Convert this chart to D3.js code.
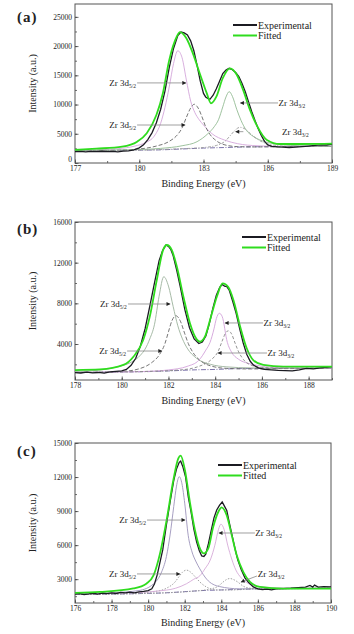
<!DOCTYPE html>
<html>
<head>
<meta charset="utf-8">
<script src="https://cdn.jsdelivr.net/npm/d3@7/dist/d3.min.js"></script>
<style>
  body { margin: 0; background: #fff; }
  svg { display: block; }
  text { font-family: "Liberation Serif", "Times New Roman", Times, "DejaVu Serif", serif; fill: #222; }
</style>
</head>
<body>
<svg id="chart" width="354" height="634"></svg>
<script>
// ---- panel (a) : [binding energy eV, intensity a.u.] ----
const expA = [[177,1950],[177.25,2000],[177.5,1920],[177.75,1980],[178,1960],[178.25,2010],[178.5,1940],[178.75,2000],[179,1900],[179.25,2020],[179.5,2080],[179.75,2250],[180,2600],[180.2,3100],[180.4,4000],[180.6,5200],[180.8,6900],[181,9200],[181.2,12300],[181.4,16300],[181.6,19600],[181.8,21800],[181.95,22400],[182.1,22250],[182.25,21900],[182.4,20900],[182.55,19200],[182.7,16700],[182.85,14000],[183,11900],[183.1,11300],[183.2,11050],[183.3,10900],[183.45,11600],[183.6,12700],[183.75,14000],[183.9,15300],[184.05,15900],[184.2,16200],[184.35,15950],[184.5,15500],[184.65,14800],[184.8,13600],[184.95,12200],[185.1,10500],[185.25,8800],[185.4,7300],[185.55,5900],[185.7,4700],[185.85,3700],[186,3100],[186.2,2850],[186.45,2750],[186.7,2700],[187,2650],[187.3,2720],[187.6,2800],[187.9,2900],[188.2,3000],[188.5,3100],[188.75,3080],[189,3250]];
const fitA = [[177,2230],[178,2450],[179.2,2800],[179.9,3650],[180.35,5080],[180.8,8200],[181.1,11900],[181.4,17600],[181.75,21600],[181.9,22400],[182.2,21350],[182.5,18800],[182.85,15050],[183.15,11950],[183.35,10200],[183.6,11350],[183.9,14500],[184.24,16200],[184.56,15050],[184.85,12500],[185.17,9080],[185.5,6340],[185.96,3940],[186.57,3250],[187.5,3250],[189,3300]];
const bgA = [[177,2100],[179,2150],[180,2200],[181,2250],[182,2400],[183,2550],[184,2650],[185,2750],[186,2800],[187,2820],[189,2850]];
const d52mainA = [[177,2150],[178,2250],[179,2450],[179.8,2900],[180.3,3500],[180.7,4600],[181,6800],[181.2,9500],[181.4,13000],[181.6,17000],[181.8,19200],[182,18000],[182.2,14200],[182.4,10600],[182.6,8600],[182.8,7400],[183,6500],[183.4,5000],[184,3900],[184.6,3300],[185.5,2950],[186.5,2850],[189,2850]];
const d52secA = [[177,2100],[179,2200],[180,2400],[180.8,2900],[181.4,3700],[181.8,4900],[182,6000],[182.2,7800],[182.4,9400],[182.57,10050],[182.75,9400],[182.95,7700],[183.1,6200],[183.3,4900],[183.6,3800],[184,3100],[184.6,2800],[185.5,2750],[187,2800],[189,2850]];
const d32mainA = [[177,2150],[180,2300],[181,2500],[182,2950],[182.7,3650],[183.2,5000],[183.5,6200],[183.7,7400],[183.9,9600],[184.05,11300],[184.2,12200],[184.35,11400],[184.55,9200],[184.75,7300],[185,5600],[185.3,4600],[185.6,4000],[186,3500],[186.6,3150],[187.5,2950],[189,2850]];
const d32secA = [[177,2100],[180,2200],[182,2450],[183,2650],[183.6,3000],[184,3700],[184.3,4900],[184.5,5700],[184.7,6100],[184.9,5900],[185.2,5000],[185.5,4100],[185.8,3500],[186.3,3050],[187,2850],[189,2850]];

// ---- panel (b) ----
const expB = [[178,1180],[178.25,1150],[178.5,1230],[178.75,1170],[179,1200],[179.25,1140],[179.5,1250],[179.75,1300],[180,1350],[180.2,1500],[180.4,1900],[180.6,2600],[180.8,3800],[181,5500],[181.2,7700],[181.4,10000],[181.6,12200],[181.75,13200],[181.9,13750],[182,13600],[182.1,13300],[182.2,12700],[182.35,11300],[182.5,9700],[182.7,7400],[182.9,5600],[183.1,4500],[183.3,4050],[183.45,4200],[183.6,4800],[183.75,6000],[183.9,7500],[184.05,8800],[184.2,9600],[184.3,9850],[184.4,9700],[184.5,9650],[184.6,9300],[184.75,8200],[184.9,7000],[185.05,5500],[185.2,4100],[185.35,3000],[185.5,2300],[185.65,1900],[185.85,1650],[186.1,1500],[186.4,1450],[186.7,1400],[187,1380],[187.3,1350],[187.6,1450],[187.9,1600],[188.2,1550],[188.5,1650],[188.75,1700],[189,1780]];
const fitB = [[178,1440],[179.07,1500],[180.07,1940],[180.5,2750],[180.92,4390],[181.2,6690],[181.5,10290],[181.78,13310],[181.93,13740],[182.14,13250],[182.36,11600],[182.64,8650],[182.92,6040],[183.21,4460],[183.35,4230],[183.56,4720],[183.78,6360],[184.07,8650],[184.32,9970],[184.56,9600],[184.78,8330],[185.07,5700],[185.35,3580],[185.63,2420],[186.06,1940],[186.92,1770],[189,1770]];
const bgB = [[178,1200],[180,1250],[181,1280],[182,1350],[183,1450],[184,1500],[185,1580],[187,1600],[189,1620]];
const d52mainB = [[178,1300],[179,1420],[179.8,1750],[180.4,2200],[180.8,2900],[181,3500],[181.2,4500],[181.4,5900],[181.6,8700],[181.8,10620],[182,9700],[182.2,7700],[182.4,5800],[182.6,4500],[182.8,3600],[183.2,2600],[183.8,2000],[184.5,1750],[185.5,1650],[187,1620],[189,1620]];
const d52secB = [[178,1200],[180,1300],[180.8,1600],[181.3,2200],[181.6,2900],[181.85,4040],[182,5200],[182.15,6300],[182.32,6780],[182.5,6300],[182.7,5000],[182.85,4040],[183.1,3000],[183.4,2300],[183.8,1850],[184.5,1600],[185.5,1550],[187,1580],[189,1600]];
const d32mainB = [[178,1200],[180,1250],[181,1300],[182,1450],[182.8,1800],[183.3,2400],[183.6,3400],[183.78,4160],[183.95,5500],[184.05,6500],[184.18,7020],[184.3,6700],[184.52,4160],[184.7,3200],[185,2500],[185.4,2100],[185.8,1900],[186.5,1700],[189,1620]];
const d32secB = [[178,1200],[181,1300],[182.5,1450],[183.3,1800],[183.8,2400],[184.13,3300],[184.3,4300],[184.45,5100],[184.56,5300],[184.7,5000],[184.85,4100],[184.99,3300],[185.2,2500],[185.5,1950],[186,1700],[187,1620],[189,1620]];

// ---- panel (c) ----
const expC = [[176,1680],[176.25,1720],[176.5,1650],[176.75,1700],[177,1760],[177.25,1690],[177.5,1780],[177.75,1720],[178,1800],[178.25,1740],[178.5,1830],[178.75,1790],[179,1850],[179.25,1800],[179.5,1880],[179.75,1920],[180,2000],[180.2,2150],[180.35,2600],[180.5,3400],[180.65,4500],[180.8,5600],[181,7800],[181.2,9800],[181.4,11700],[181.55,12700],[181.7,13300],[181.78,13400],[181.9,12900],[182.05,12000],[182.2,10200],[182.35,8900],[182.5,7400],[182.65,6300],[182.8,5500],[182.93,5050],[183.05,5000],[183.15,5200],[183.3,6150],[183.45,7300],[183.6,8400],[183.75,9100],[183.9,9500],[184.05,9800],[184.15,9500],[184.3,9050],[184.45,7900],[184.6,6800],[184.75,5700],[184.9,4700],[185.1,3800],[185.3,3100],[185.5,2700],[185.75,2320],[186,2150],[186.25,2080],[186.5,2120],[186.75,2050],[187,2150],[187.4,2170],[187.8,2200],[188.2,2250],[188.6,2300],[188.85,2450],[189,2300],[189.1,2480],[189.3,2300],[189.6,2350],[190,2320]];
const fitC = [[176,1790],[177.37,1880],[179.19,2180],[179.92,2620],[180.3,3350],[180.65,5270],[181.01,8210],[181.38,11740],[181.65,13650],[181.78,13880],[182.01,12620],[182.28,9820],[182.56,7320],[182.83,5710],[183.05,5270],[183.29,5710],[183.56,7610],[183.84,8940],[184.02,9330],[184.29,8650],[184.57,6880],[184.84,5120],[185.2,3650],[185.57,2760],[186.11,2320],[187.39,2170],[190,2170]];
const bgC = [[176,1650],[180,1750],[181,1800],[182,1900],[183,2000],[184,2050],[185,2100],[186,2150],[190,2200]];
const d52mainC = [[176,1700],[178,1800],[179.5,2000],[180.3,2600],[180.7,3500],[181,5000],[181.2,6900],[181.4,9400],[181.55,11200],[181.7,12030],[181.85,11400],[182,9700],[182.19,6870],[182.4,5400],[182.6,4600],[182.83,3900],[183.2,3000],[183.9,2350],[185,2150],[186,2150],[190,2200]];
const d52secC = [[176,1650],[179,1750],[180.3,1900],[181,2200],[181.47,2750],[181.7,3250],[181.9,3650],[182.1,3800],[182.3,3650],[182.55,3250],[182.83,2750],[183.2,2300],[183.7,2050],[184.5,2050],[186,2150],[190,2200]];
const d32mainC = [[176,1700],[179,1800],[180.5,1950],[181.5,2200],[182.1,2600],[182.5,3000],[182.83,3300],[183.1,3900],[183.42,4780],[183.65,6000],[183.85,7400],[183.98,7850],[184.15,7400],[184.35,6000],[184.57,4780],[184.8,3800],[185.1,3100],[185.5,2600],[186,2350],[187,2250],[190,2200]];
const d32secC = [[176,1650],[181,1800],[182.5,1950],[183.3,2100],[183.83,2380],[184.1,2750],[184.3,2980],[184.47,3060],[184.65,2980],[184.9,2750],[185.2,2380],[185.6,2200],[186.2,2150],[190,2200]];

// ---- ticks ----
const xTicksA = [177, 180, 183, 186, 189];
const yTicksA = [0, 5000, 10000, 15000, 20000, 25000];
const xTicksB = [178, 180, 182, 184, 186, 188];
const yTicksB = [4000, 8000, 12000, 16000];
const xTicksC = [176, 178, 180, 182, 184, 186, 188, 190];
const yTicksC = [3000, 6000, 9000, 12000, 15000];

// annotation anchors in data units: [textX, textY, arrowFromX, arrowFromY, arrowToX, arrowToY, anchor, sub]
const notesA = [
  [179.85, 13700, 179.9, 13700, 182.18, 13700, "end", "5/2"],
  [179.85, 6500, 179.9, 6500, 182.14, 6500, "end", "5/2"],
  [186.5, 10270, 186.48, 10270, 184.72, 10270, "start", "3/2"],
  [186.67, 5360, 184.86, 5360, 184.5, 5360, "start", "3/2"]
];
const notesB = [
  [180.22, 7935, 180.27, 7935, 182.07, 7935, "end", "5/2"],
  [180.18, 3310, 180.23, 3310, 181.72, 3310, "end", "5/2"],
  [186.07, 6070, 186.05, 6070, 184.42, 6070, "start", "3/2"],
  [186.24, 3115, 186.22, 3115, 184.12, 3115, "start", "3/2"]
];
const notesC = [
  [179.88, 8210, 179.94, 8210, 182.02, 8210, "end", "5/2"],
  [179.33, 3460, 179.39, 3460, 181.74, 3460, "end", "5/2"],
  [185.86, 7070, 185.84, 7070, 183.87, 7070, "start", "3/2"],
  [186.0, 3460, 185.95, 3280, 185.08, 2750, "start", "3/2"]
];

const svg = d3.select("#chart");
const serif = "'Liberation Serif', 'Times New Roman', Times, 'DejaVu Serif', serif";

svg.append("defs").append("marker")
  .attr("id", "arrow")
  .attr("viewBox", "0 0 10 10")
  .attr("refX", 9).attr("refY", 5)
  .attr("markerWidth", 5).attr("markerHeight", 4)
  .attr("markerUnits", "userSpaceOnUse")
  .attr("orient", "auto")
  .append("path")
  .attr("d", "M0,0L10,5L0,10Z")
  .attr("fill", "#222");

const panels = [
  {
    label: "(a)", top: 4, bottom: 163, left: 75, right: 332,
    xDomain: [177, 189], yDomain: [0, 27200],
    xTicks: xTicksA, yTicks: yTicksA, xMinorStep: 1.5, yMinorStep: 2500,
    exp: expA, fit: fitA, bg: bgA,
    comps: [
      { data: d52mainA, color: "#d4a6da", dash: null },
      { data: d52secA, color: "#666", dash: "4,2" },
      { data: d32mainA, color: "#93bb93", dash: null },
      { data: d32secA, color: "#999", dash: "3,1.5,1,1.5" }
    ],
    notes: notesA, legendX: 233, legendY: 25, labelY: 22, xLabelY: 187
  },
  {
    label: "(b)", top: 222, bottom: 380, left: 75, right: 332,
    xDomain: [178, 189], yDomain: [460, 16000],
    xTicks: xTicksB, yTicks: yTicksB, xMinorStep: 1, yMinorStep: 2000,
    exp: expB, fit: fitB, bg: bgB,
    comps: [
      { data: d52mainB, color: "#9cb29c", dash: null },
      { data: d52secB, color: "#666", dash: "4,2" },
      { data: d32mainB, color: "#d2a2da", dash: null },
      { data: d32secB, color: "#888", dash: "3,2" }
    ],
    notes: notesB, legendX: 242, legendY: 237, labelY: 234, xLabelY: 404
  },
  {
    label: "(c)", top: 443, bottom: 603, left: 75, right: 331,
    xDomain: [176, 190], yDomain: [900, 15000],
    xTicks: xTicksC, yTicks: yTicksC, xMinorStep: 1, yMinorStep: 1500,
    exp: expC, fit: fitC, bg: bgC,
    comps: [
      { data: d52mainC, color: "#9d94bb", dash: null },
      { data: d52secC, color: "#999", dash: "1.5,1.5" },
      { data: d32mainC, color: "#d6aad8", dash: null },
      { data: d32secC, color: "#999", dash: "1.5,1.5" }
    ],
    notes: notesC, legendX: 218, legendY: 465, labelY: 456, xLabelY: 626
  }
];

function drawPanel(p) {
  const x = d3.scaleLinear().domain(p.xDomain).range([p.left, p.right]);
  const y = d3.scaleLinear().domain(p.yDomain).range([p.bottom, p.top]);
  const g = svg.append("g");

  // minor ticks
  const xMinor = d3.range(p.xDomain[0], p.xDomain[1] + 1e-6, p.xMinorStep);
  const yMinor = d3.range(p.yTicks[0] - p.yMinorStep * Math.floor((p.yTicks[0] - p.yDomain[0]) / p.yMinorStep), p.yDomain[1] + 1e-6, p.yMinorStep);
  g.append("g").attr("transform", "translate(0," + p.bottom + ")")
    .call(d3.axisBottom(x).tickValues(xMinor).tickSize(-2).tickFormat(""))
    .call(a => a.select(".domain").remove());
  g.append("g").attr("transform", "translate(" + p.left + ",0)")
    .call(d3.axisLeft(y).tickValues(yMinor).tickSize(-2).tickFormat(""))
    .call(a => a.select(".domain").remove());

  // major ticks
  const xa = g.append("g").attr("transform", "translate(0," + p.bottom + ")")
    .call(d3.axisBottom(x).tickValues(p.xTicks).tickSize(-3.5).tickPadding(3).tickFormat(d3.format("d")));
  const ya = g.append("g").attr("transform", "translate(" + p.left + ",0)")
    .call(d3.axisLeft(y).tickValues(p.yTicks).tickSize(-3.5).tickPadding(3).tickFormat(d3.format("d")));
  [xa, ya].forEach(a => {
    a.select(".domain").remove();
    a.attr("font-family", serif);
    a.selectAll("text").attr("font-size", 7.5).attr("fill", "#333");
  });
  // keep the "0" clear of the first x label
  ya.selectAll(".tick").filter(d => d === 0).select("text").attr("dy", "-0.25em");
  g.selectAll(".tick line").attr("stroke", "#444").attr("stroke-width", 0.8);

  // frame
  g.append("rect")
    .attr("x", p.left).attr("y", p.top)
    .attr("width", p.right - p.left).attr("height", p.bottom - p.top)
    .attr("fill", "none").attr("stroke", "#555").attr("stroke-width", 1);

  const smooth = d3.line().x(d => x(d[0])).y(d => y(d[1])).curve(d3.curveMonotoneX);
  const raw = d3.line().x(d => x(d[0])).y(d => y(d[1]));

  // background
  g.append("path").datum(p.bg).attr("d", smooth)
    .attr("fill", "none").attr("stroke", "#5b4f96").attr("stroke-width", 0.8).attr("stroke-dasharray", "5,1.5,1,1.5");

  // fitted components
  p.comps.forEach(c => {
    g.append("path").datum(c.data).attr("d", smooth)
      .attr("fill", "none").attr("stroke", c.color).attr("stroke-width", 0.9)
      .attr("stroke-dasharray", c.dash);
  });

  // experimental + fitted envelope
  g.append("path").datum(p.exp).attr("d", raw)
    .attr("fill", "none").attr("stroke", "#1b1b22").attr("stroke-width", 1.3);
  g.append("path").datum(p.fit).attr("d", smooth)
    .attr("fill", "none").attr("stroke", "#2fdc1e").attr("stroke-width", 1.8);

  // annotations
  p.notes.forEach(n => {
    g.append("line")
      .attr("x1", x(n[2])).attr("y1", y(n[3]))
      .attr("x2", x(n[4])).attr("y2", y(n[5]))
      .attr("stroke", "#888").attr("stroke-width", 0.8)
      .attr("marker-end", "url(#arrow)");
    const t = g.append("text")
      .attr("x", x(n[0])).attr("y", y(n[1]) + 3)
      .attr("text-anchor", n[6])
      .attr("font-size", 9).attr("fill", "#333");
    t.append("tspan").text("Zr 3d");
    t.append("tspan").attr("dy", 2).attr("font-size", 5.5).text(n[7]);
  });

  // legend
  const lg = g.append("g").attr("transform", "translate(" + p.legendX + "," + p.legendY + ")");
  [["Experimental", "#1b1b22"], ["Fitted", "#2fdc1e"]].forEach((d, i) => {
    lg.append("line").attr("x1", 0).attr("x2", 24).attr("y1", i * 10.5).attr("y2", i * 10.5)
      .attr("stroke", d[1]).attr("stroke-width", 2);
    lg.append("text").attr("x", 25).attr("y", i * 10.5 + 3.5).attr("font-size", 10).text(d[0]);
  });

  // panel label
  g.append("text").attr("x", 17).attr("y", p.labelY)
    .attr("font-size", 15).attr("font-weight", "bold").attr("letter-spacing", 1)
    .attr("fill", "#111").text(p.label);

  // axis titles
  g.append("text")
    .attr("transform", "translate(36," + ((p.top + p.bottom) / 2) + ") rotate(-90)")
    .attr("text-anchor", "middle").attr("font-size", 10).attr("fill", "#333")
    .text("Intensity (a.u.)");
  g.append("text")
    .attr("x", (p.left + p.right) / 2).attr("y", p.xLabelY)
    .attr("text-anchor", "middle").attr("font-size", 10).attr("fill", "#333")
    .text("Binding Energy (eV)");
}

panels.forEach(drawPanel);
</script>
</body>
</html>
